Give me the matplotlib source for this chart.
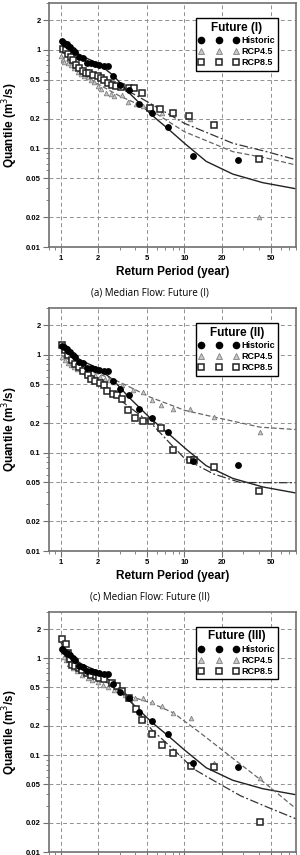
import numpy as np
import matplotlib
matplotlib.use("Agg")
import matplotlib.pyplot as plt
from matplotlib.ticker import FixedLocator, LogLocator, NullFormatter

plt.rcParams['font.family'] = ['Liberation Sans', 'DejaVu Sans']

# -----------------------
# data
# -----------------------
# historic observations (same in every panel)
hist_T = [1.02, 1.06, 1.11, 1.15, 1.19, 1.24, 1.31, 1.39, 1.50, 1.62, 1.75, 1.90,
          2.05, 2.21, 2.39, 2.66, 3.01, 3.54, 4.26, 5.43, 7.32, 11.7, 27.0]
hist_Q = [1.24, 1.19, 1.14, 1.10, 1.08, 1.00, 0.96, 0.84, 0.82, 0.74, 0.74, 0.72,
          0.70, 0.69, 0.69, 0.545, 0.445, 0.39, 0.28, 0.227, 0.164, 0.083, 0.076]
hist_fit_T = [1.02, 1.2, 1.5, 2.0, 2.66, 3.54, 5.4, 7.3, 10, 15, 24.6, 43, 80]
hist_fit_Q = [1.25, 1.02, 0.86, 0.73, 0.55, 0.37, 0.22, 0.16, 0.113, 0.074, 0.055, 0.045, 0.039]

# panel (a) Future (I)
p1_r45_T = [1.0, 1.03, 1.06, 1.13, 1.21, 1.28, 1.37, 1.45, 1.55, 1.65, 1.75, 1.86,
            1.98, 2.11, 2.32, 2.54, 2.71, 3.12, 3.46, 4.05, 4.6, 5.5, 6.6, 11.0, 40.0]
p1_r45_Q = [0.87, 0.79, 0.76, 0.73, 0.70, 0.65, 0.60, 0.57, 0.54, 0.53, 0.50, 0.47,
            0.43, 0.40, 0.37, 0.36, 0.34, 0.35, 0.30, 0.28, 0.27, 0.245, 0.23, 0.20, 0.020]
p1_r85_T = [1.03, 1.10, 1.15, 1.21, 1.26, 1.32, 1.41, 1.50, 1.60, 1.70, 1.83, 1.98,
            2.11, 2.25, 2.39, 2.59, 2.79, 3.06, 3.58, 3.92, 4.53, 5.30, 6.38, 8.03,
            10.98, 17.2, 40.1]
p1_r85_Q = [1.02, 1.00, 0.92, 0.84, 0.80, 0.70, 0.65, 0.61, 0.59, 0.58, 0.56, 0.54,
            0.52, 0.50, 0.46, 0.44, 0.43, 0.42, 0.408, 0.408, 0.363, 0.256, 0.25, 0.228,
            0.215, 0.173, 0.078]
p1_r45_fit_T = [1.0, 1.5, 2.0, 3.0, 4.0, 5.2, 10, 24.6, 46, 80]
p1_r45_fit_Q = [0.88, 0.56, 0.45, 0.34, 0.29, 0.25, 0.148, 0.093, 0.080, 0.068]
p1_r85_fit_T = [1.02, 1.5, 2.0, 3.0, 4.0, 5.2, 10, 24.6, 46, 80]
p1_r85_fit_Q = [1.0, 0.62, 0.52, 0.42, 0.35, 0.29, 0.18, 0.113, 0.093, 0.077]

# panel (c) Future (II)
p2_r45_T = [1.01, 1.08, 1.15, 1.20, 1.27, 1.36, 1.47, 1.60, 1.72, 1.89, 2.07, 2.27,
            2.47, 2.69, 3.1, 3.86, 4.59, 5.43, 6.47, 8.14, 11.1, 17.4, 41.1]
p2_r45_Q = [0.95, 0.875, 0.83, 0.79, 0.75, 0.72, 0.68, 0.655, 0.64, 0.62, 0.59, 0.57,
            0.55, 0.527, 0.495, 0.433, 0.417, 0.343, 0.305, 0.282, 0.282, 0.232, 0.163]
p2_r85_T = [1.01, 1.08, 1.15, 1.22, 1.30, 1.41, 1.52, 1.64, 1.74, 1.89, 2.07, 2.23,
            2.37, 2.62, 2.83, 3.11, 3.51, 3.98, 4.6, 5.37, 6.46, 8.14, 11.1, 11.85,
            17.5, 40.3]
p2_r85_Q = [1.245, 1.107, 0.984, 0.876, 0.81, 0.749, 0.677, 0.616, 0.57, 0.535, 0.519,
            0.487, 0.423, 0.401, 0.391, 0.356, 0.271, 0.226, 0.209, 0.209, 0.179, 0.106,
            0.085, 0.085, 0.071, 0.041]
p2_r45_fit_T = [1.0, 1.5, 2.07, 2.69, 3.86, 5.27, 10.1, 17.4, 41, 80]
p2_r45_fit_Q = [1.0, 0.72, 0.63, 0.56, 0.45, 0.37, 0.271, 0.232, 0.183, 0.173]
p2_r85_fit_T = [1.02, 1.2, 1.5, 2.07, 3.63, 5.43, 7.43, 10.1, 17.2, 28.2, 46.5, 80]
p2_r85_fit_Q = [1.2, 0.95, 0.72, 0.49, 0.29, 0.198, 0.13, 0.087, 0.061, 0.050, 0.0497, 0.0497]

# panel Future (III)
p3_r45_T = [1.01, 1.06, 1.09, 1.16, 1.24, 1.36, 1.49, 1.64, 1.80, 1.98, 2.18, 2.39,
            2.71, 2.98, 3.33, 3.95, 4.62, 5.41, 6.52, 8.12, 11.3, 17.5, 40.8]
p3_r45_Q = [1.266, 1.024, 0.961, 0.875, 0.79, 0.73, 0.675, 0.624, 0.59, 0.563, 0.533,
            0.505, 0.474, 0.445, 0.421, 0.389, 0.389, 0.352, 0.32, 0.273, 0.24, 0.082, 0.058]
p3_r85_T = [1.025, 1.09, 1.13, 1.18, 1.22, 1.30, 1.40, 1.49, 1.61, 1.75, 1.92, 2.05,
            2.25, 2.59, 2.83, 3.13, 3.55, 4.02, 4.56, 5.41, 6.52, 8.12, 11.3, 17.5, 40.8]
p3_r85_Q = [1.565, 1.40, 1.143, 0.977, 0.855, 0.822, 0.79, 0.76, 0.702, 0.675, 0.649,
            0.624, 0.61, 0.555, 0.513, 0.456, 0.389, 0.296, 0.23, 0.166, 0.127, 0.106,
            0.078, 0.075, 0.0204]
p3_r45_fit_T = [1.0, 1.2, 1.5, 2.05, 3.6, 5.41, 8.12, 13.4, 25.1, 47, 80]
p3_r45_fit_Q = [1.2, 0.9, 0.75, 0.62, 0.405, 0.345, 0.273, 0.17, 0.091, 0.049, 0.028]
p3_r85_fit_T = [1.0, 1.2, 1.5, 2.05, 3.6, 5.41, 8.12, 11.85, 18.4, 28.5, 47, 80]
p3_r85_fit_Q = [1.45, 1.0, 0.8, 0.65, 0.374, 0.184, 0.115, 0.072, 0.052, 0.038, 0.029, 0.022]

panels = [
    ("Future (I)", p1_r45_T, p1_r45_Q, p1_r85_T, p1_r85_Q,
     p1_r45_fit_T, p1_r45_fit_Q, p1_r85_fit_T, p1_r85_fit_Q),
    ("Future (II)", p2_r45_T, p2_r45_Q, p2_r85_T, p2_r85_Q,
     p2_r45_fit_T, p2_r45_fit_Q, p2_r85_fit_T, p2_r85_fit_Q),
    ("Future (III)", p3_r45_T, p3_r45_Q, p3_r85_T, p3_r85_Q,
     p3_r45_fit_T, p3_r45_fit_Q, p3_r85_fit_T, p3_r85_fit_Q),
]

x_ticks = [1, 2, 5, 10, 20, 50]
x_ticklabels = ["1", "2", "5", "10", "20", "50"]
y_ticks = [0.01, 0.02, 0.05, 0.1, 0.2, 0.5, 1, 2]
y_ticklabels = ["0.01", "0.02", "0.05", "0.1", "0.2", "0.5", "1", "2"]

# -----------------------
# figure
# -----------------------
fig = plt.figure(figsize=(3.0, 8.55), dpi=100)
W, H = 300.0, 855.0
boxes = [(49, 3, 296, 247), (49, 308, 296, 551), (49, 612, 296, 852)]

spine_col = "#707070"
for i, (box, p) in enumerate(zip(boxes, panels)):
    x0, y0, x1, y1 = box
    ax = fig.add_axes([x0 / W, (H - y1) / H, (x1 - x0) / W, (y1 - y0) / H])
    title, r45T, r45Q, r85T, r85Q, f45T, f45Q, f85T, f85Q = p

    ax.set_xscale("log")
    ax.set_yscale("log")
    ax.set_xlim(0.8, 80)
    ax.set_ylim(0.01, 3.0)

    ax.plot(hist_fit_T, hist_fit_Q, color="#222222", lw=1.0, zorder=2)
    ax.plot(f45T, f45Q, color="#666666", lw=0.9, dashes=(4, 2), zorder=2)
    ax.plot(f85T, f85Q, color="#333333", lw=0.9, dashes=(7, 2, 1.5, 2), zorder=2)

    ax.plot(r45T, r45Q, ls="none", marker="^", ms=3.3, mfc="#c8c8c8", mec="#808080",
            mew=0.6, label="RCP4.5", zorder=3)
    ax.plot(r85T, r85Q, ls="none", marker="s", ms=4.0, mfc="white", mec="#222222",
            mew=1.1, label="RCP8.5", zorder=4)
    ax.plot(hist_T, hist_Q, ls="none", marker="o", ms=3.9, color="black",
            label="Historic", zorder=5)

    ax.xaxis.set_major_locator(FixedLocator(x_ticks))
    ax.set_xticklabels(x_ticklabels)
    ax.yaxis.set_major_locator(FixedLocator(y_ticks))
    ax.set_yticklabels(y_ticklabels)
    ax.xaxis.set_minor_locator(LogLocator(base=10, subs=np.arange(1, 10)))
    ax.yaxis.set_minor_locator(LogLocator(base=10, subs=np.arange(1, 10)))
    ax.xaxis.set_minor_formatter(NullFormatter())
    ax.yaxis.set_minor_formatter(NullFormatter())

    ax.grid(True, which="major", color="#909090", ls=(0, (4, 3)), lw=0.7)
    ax.tick_params(which="major", direction="out", length=4, width=0.8,
                   color=spine_col, labelsize=5.5, pad=2)
    ax.tick_params(which="minor", direction="out", length=2.5, width=0.6, color=spine_col)
    if i == 2:
        # the last panel's x axis runs off the bottom of the picture
        ax.tick_params(axis="x", labelbottom=False)
    for lab in ax.get_xticklabels() + ax.get_yticklabels():
        lab.set_fontweight("bold")
    for s in ax.spines.values():
        s.set_color(spine_col)
        s.set_linewidth(1.2)

    ax.set_ylabel("Quantile (m$^3$/s)", fontsize=8.5, fontweight="bold", labelpad=4)
    if i < 2:
        ax.set_xlabel("Return Period (year)", fontsize=8.5, fontweight="bold", labelpad=3)

    handles, labels = ax.get_legend_handles_labels()
    order = [2, 0, 1]
    leg = ax.legend([handles[k] for k in order], [labels[k] for k in order],
                    title=title, loc="upper right",
                    bbox_to_anchor=(0.945, 0.955), numpoints=3, handlelength=4.4,
                    handletextpad=0.3, borderpad=0.35, labelspacing=0.25,
                    fancybox=False, framealpha=1, edgecolor="black",
                    prop={"size": 6.5, "weight": "bold"}, markerscale=1.15)
    leg.get_title().set_fontsize(8.5)
    leg.get_title().set_fontweight("bold")
    leg.get_frame().set_linewidth(1.0)

fig.text(150 / W, 1 - 293 / H, "(a) Median Flow: Future (I)", ha="center", va="center",
         fontsize=7, family=["Open Sans", "DejaVu Sans"])
fig.text(150 / W, 1 - 597 / H, "(c) Median Flow: Future (II)", ha="center", va="center",
         fontsize=7, family=["Open Sans", "DejaVu Sans"])

plt.savefig("out.png", dpi=100)
plt.close()
